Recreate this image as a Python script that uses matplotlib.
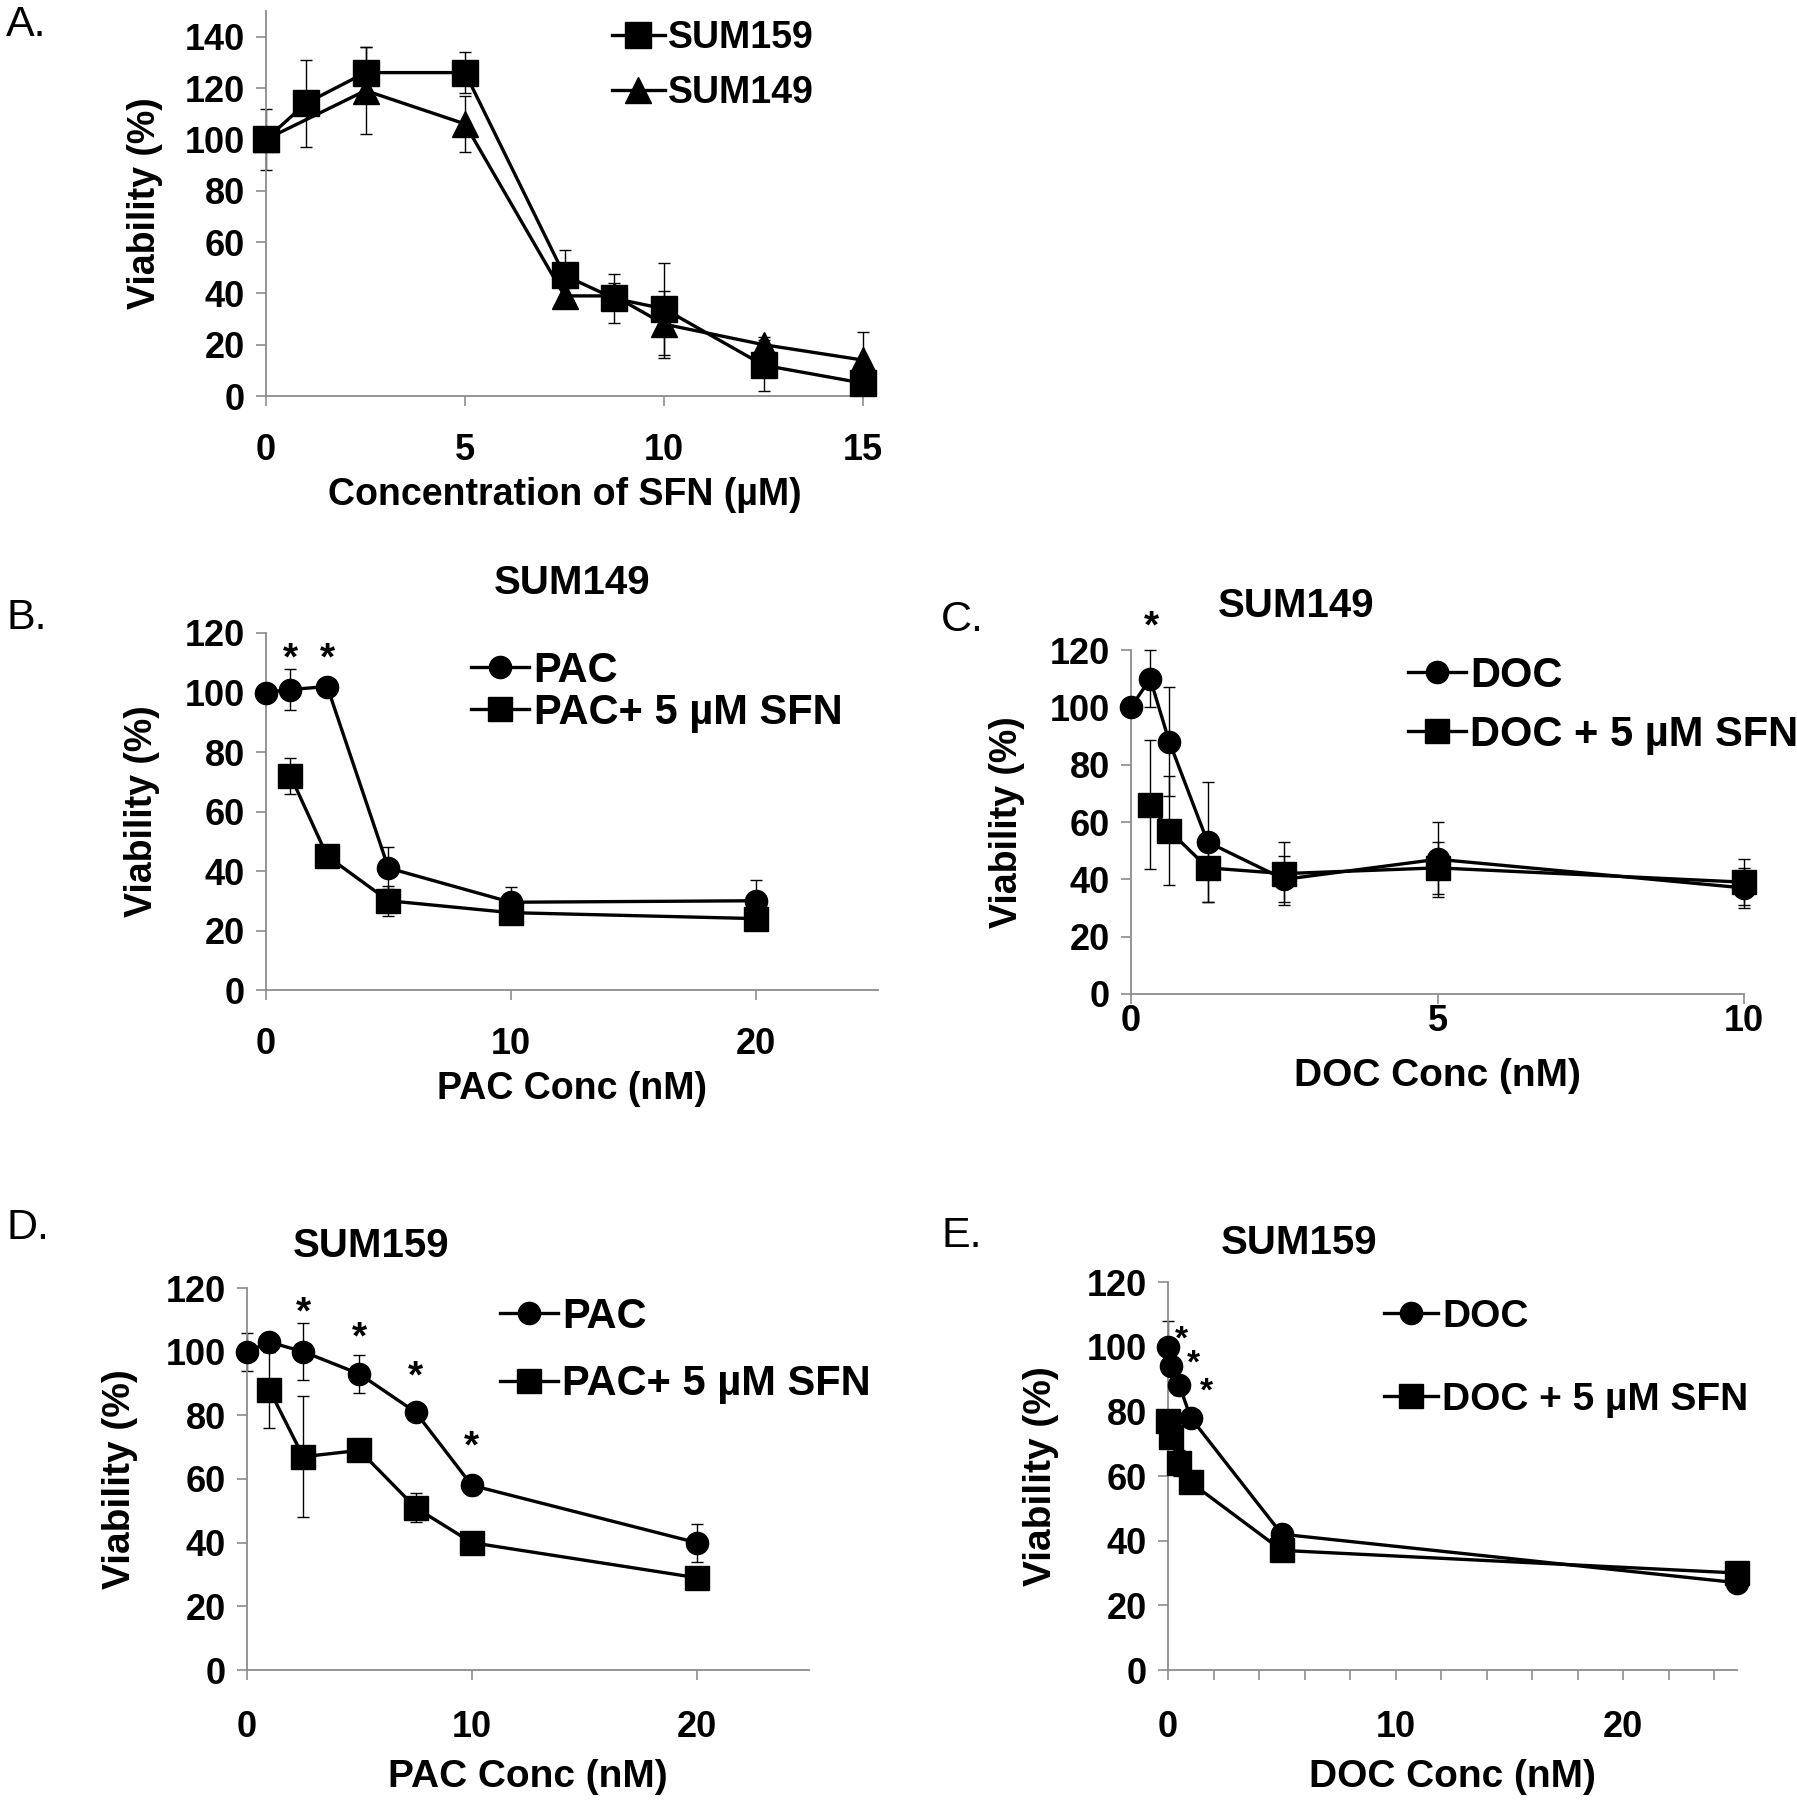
import matplotlib
matplotlib.use("Agg")

import matplotlib.pyplot as plt
from matplotlib.ticker import MultipleLocator

plt.rcParams['font.family'] = ['Liberation Sans', 'DejaVu Sans']
plt.rcParams['font.weight'] = 'bold'

W, H = 1797, 1800
GREY = '#8c8c8c'

# ---- data -----------------------------------------------------------------
# A: SFN dose response
sfn_x159 = [0, 1, 2.5, 5, 7.5, 8.75, 10, 12.5, 15]
sum159_v = [100, 114, 126, 126, 47, 38, 34, 12, 5]
sum159_e = [12, 17, 10, 8, 10, 9.5, 18, 10, 2]
sfn_x149 = [0, 2.5, 5, 7.5, 8.75, 10, 12.5, 15]
sum149_v = [100, 119, 106, 39, 39, 28, 20, 14]
sum149_e = [3, 17, 11, 3, 5, 13, 3, 11]

# B: SUM149 PAC
b_x_pac = [0, 1, 2.5, 5, 10, 20]
b_pac = [100, 101, 102, 41, 29.5, 30]
b_pac_e = [0, 7, 1, 7, 5, 7]
b_x_sfn = [1, 2.5, 5, 10, 20]
b_sfn = [72, 45, 30, 26, 24]
b_sfn_e = [6, 1, 5, 1, 1]
b_stars = [(1, 111), (2.5, 111)]

# C: SUM149 DOC
c_x = [0, 0.3125, 0.625, 1.25, 2.5, 5, 10]
c_doc = [100, 110, 88, 53, 40, 47, 37]
c_doc_e = [0, 10, 19, 21, 8, 13, 7]
c_x_sfn = [0.3125, 0.625, 1.25, 2.5, 5, 10]
c_sfn = [66, 57, 44, 42, 44, 39]
c_sfn_e = [22.5, 19, 12, 11, 9, 8]
c_stars = [(0.33, 128)]

# D: SUM159 PAC
d_x_pac = [0, 1, 2.5, 5, 7.5, 10, 20]
d_pac = [100, 103, 100, 93, 81, 58, 40]
d_pac_e = [6, 3, 9, 6, 1, 3, 6]
d_x_sfn = [1, 2.5, 5, 7.5, 10, 20]
d_sfn = [88, 67, 69, 51, 40, 29]
d_sfn_e = [12, 19, 3, 4.5, 1, 1]
d_stars = [(2.5, 112), (5, 104), (7.5, 92), (10, 70)]

# E: SUM159 DOC
e_x = [0, 0.125, 0.5, 1, 5, 25]
e_doc = [100, 94, 88, 78, 42, 27]
e_doc_e = [8, 2, 3, 2, 1, 1]
e_sfn = [77, 72, 64, 58, 37, 30]
e_sfn_e = [2, 2, 4, 1, 1, 1]
e_stars = [(0.6, 102), (1.1, 94.5), (1.7, 86)]

TICK_FS = 26
LAB_FS = 27
TITLE_FS = 29
PANEL_FS = 31

fig = plt.figure(figsize=(W / 100, H / 100), dpi=100)


def px_axes(x0, y_top, x1, y_bot):
    return fig.add_axes([x0 / W, 1 - y_bot / H, (x1 - x0) / W, (y_bot - y_top) / H])


def style(ax, xlim, ylim, xmajor, ymajor, xpad, xminor=None):
    ax.set_xlim(*xlim)
    ax.set_ylim(*ylim)
    ax.xaxis.set_major_locator(MultipleLocator(xmajor))
    ax.yaxis.set_major_locator(MultipleLocator(ymajor))
    if xminor:
        ax.xaxis.set_minor_locator(MultipleLocator(xminor))
        ax.tick_params(axis='x', which='minor', length=7, width=1.2, color=GREY, direction='out')
    for s in ['top', 'right']:
        ax.spines[s].set_visible(False)
    for s in ['left', 'bottom']:
        ax.spines[s].set_color(GREY)
        ax.spines[s].set_linewidth(1.3)
    ax.tick_params(which='major', length=7, width=1.2, color=GREY, direction='out', labelsize=TICK_FS)
    ax.tick_params(axis='x', pad=xpad)
    ax.tick_params(axis='y', pad=8)
    for lab in ax.get_xticklabels() + ax.get_yticklabels():
        lab.set_fontweight('bold')


def series(ax, x, y, e, marker, ms, label):
    ax.errorbar(x, y, yerr=e, fmt='none', ecolor='black', elinewidth=1.0, capsize=4,
                capthick=1.0, clip_on=False, zorder=2)
    ax.plot(x, y, color='black', lw=2.4, marker=marker, ms=ms, mfc='black', mec='black',
            label=label, clip_on=False, zorder=3)


def legend(ax, x, y, spacing, fs):
    leg = ax.legend(loc='upper left', bbox_to_anchor=(x / W, 1 - y / H), bbox_transform=fig.transFigure,
                    frameon=False, handlelength=1.4, handletextpad=0.1, labelspacing=spacing,
                    borderpad=0, borderaxespad=0, prop={'size': fs, 'weight': 'bold'})
    return leg


def stars(ax, pts, fs=28):
    for sx, sy in pts:
        ax.text(sx, sy, '*', ha='center', va='center', fontsize=fs, fontweight='bold', clip_on=False)


# ---- panel A ---------------------------------------------------------------
axA = px_axes(266, 11, 863, 396)
series(axA, sfn_x159, sum159_v, sum159_e, 's', 19, 'SUM159')
series(axA, sfn_x149, sum149_v, sum149_e, '^', 19, 'SUM149')
style(axA, (0, 15), (0, 150), 5, 20, 20)
axA.set_yticks(range(0, 141, 20))
axA.set_xlabel('Concentration of SFN (µM)', fontsize=LAB_FS, fontweight='bold', labelpad=6)
axA.set_ylabel('Viability (%)', fontsize=LAB_FS, fontweight='bold', labelpad=16)
legend(axA, 612, 20, 0.5, 27)
fig.text(6 / W, 1 - 25 / H, 'A.', fontsize=PANEL_FS, fontweight='normal', va='center', ha='left')

# ---- panel B ---------------------------------------------------------------
axB = px_axes(266, 633, 878, 990)
series(axB, b_x_pac, b_pac, b_pac_e, 'o', 16, 'PAC')
series(axB, b_x_sfn, b_sfn, b_sfn_e, 's', 17, 'PAC+ 5 µM SFN')
style(axB, (0, 25), (0, 120), 10, 20, 20)
axB.set_xticks([0, 10, 20])
stars(axB, b_stars)
axB.set_xlabel('PAC Conc (nM)', fontsize=LAB_FS, fontweight='bold', labelpad=6)
axB.set_ylabel('Viability (%)', fontsize=LAB_FS, fontweight='bold', labelpad=18)
axB.set_title('SUM149', fontsize=TITLE_FS, fontweight='bold', pad=28)
legend(axB, 471, 651, 0.05, 30)
fig.text(6 / W, 1 - 618 / H, 'B.', fontsize=PANEL_FS, fontweight='normal', va='center', ha='left')

# ---- panel C ---------------------------------------------------------------
axC = px_axes(1131, 650, 1744, 994)
series(axC, c_x, c_doc, c_doc_e, 'o', 16, 'DOC')
series(axC, c_x_sfn, c_sfn, c_sfn_e, 's', 17, 'DOC + 5 µM SFN')
style(axC, (0, 10), (0, 120), 5, 20, 0)
stars(axC, c_stars)
axC.set_xlabel('DOC Conc (nM)', fontsize=LAB_FS + 1, fontweight='bold', labelpad=14)
axC.set_ylabel('Viability (%)', fontsize=LAB_FS, fontweight='bold', labelpad=18)
axC.set_title('SUM149', fontsize=TITLE_FS, fontweight='bold', x=0.27, pad=24)
legend(axC, 1408, 656, 0.45, 30)
fig.text(941 / W, 1 - 620 / H, 'C.', fontsize=PANEL_FS, fontweight='normal', va='center', ha='left')

# ---- panel D ---------------------------------------------------------------
axD = px_axes(247, 1288, 809, 1670)
series(axD, d_x_pac, d_pac, d_pac_e, 'o', 16, 'PAC')
series(axD, d_x_sfn, d_sfn, d_sfn_e, 's', 17, 'PAC+ 5 µM SFN')
style(axD, (0, 25), (0, 120), 10, 20, 22)
axD.set_xticks([0, 10, 20])
stars(axD, d_stars)
axD.set_xlabel('PAC Conc (nM)', fontsize=LAB_FS + 1, fontweight='bold', labelpad=10)
axD.set_ylabel('Viability (%)', fontsize=LAB_FS + 1, fontweight='bold', labelpad=20)
axD.set_title('SUM159', fontsize=TITLE_FS, fontweight='bold', x=0.22, pad=22)
legend(axD, 500, 1297, 0.65, 30)
fig.text(6 / W, 1 - 1228 / H, 'D.', fontsize=PANEL_FS, fontweight='normal', va='center', ha='left')

# ---- panel E ---------------------------------------------------------------
axE = px_axes(1168, 1282, 1737, 1670)
series(axE, e_x, e_doc, e_doc_e, 'o', 16, 'DOC')
series(axE, e_x, e_sfn, e_sfn_e, 's', 17, 'DOC + 5 µM SFN')
style(axE, (0, 25), (0, 120), 10, 20, 22, xminor=2)
axE.set_xticks([0, 10, 20])
stars(axE, e_stars, fs=24)
axE.set_xlabel('DOC Conc (nM)', fontsize=LAB_FS + 1, fontweight='bold', labelpad=10)
axE.set_ylabel('Viability (%)', fontsize=LAB_FS + 1, fontweight='bold', labelpad=20)
axE.set_title('SUM159', fontsize=TITLE_FS, fontweight='bold', x=0.23, pad=20)
legend(axE, 1384, 1299, 1.2, 28)
fig.text(941 / W, 1 - 1236 / H, 'E.', fontsize=PANEL_FS, fontweight='normal', va='center', ha='left')

fig.savefig('out.png', dpi=100)
